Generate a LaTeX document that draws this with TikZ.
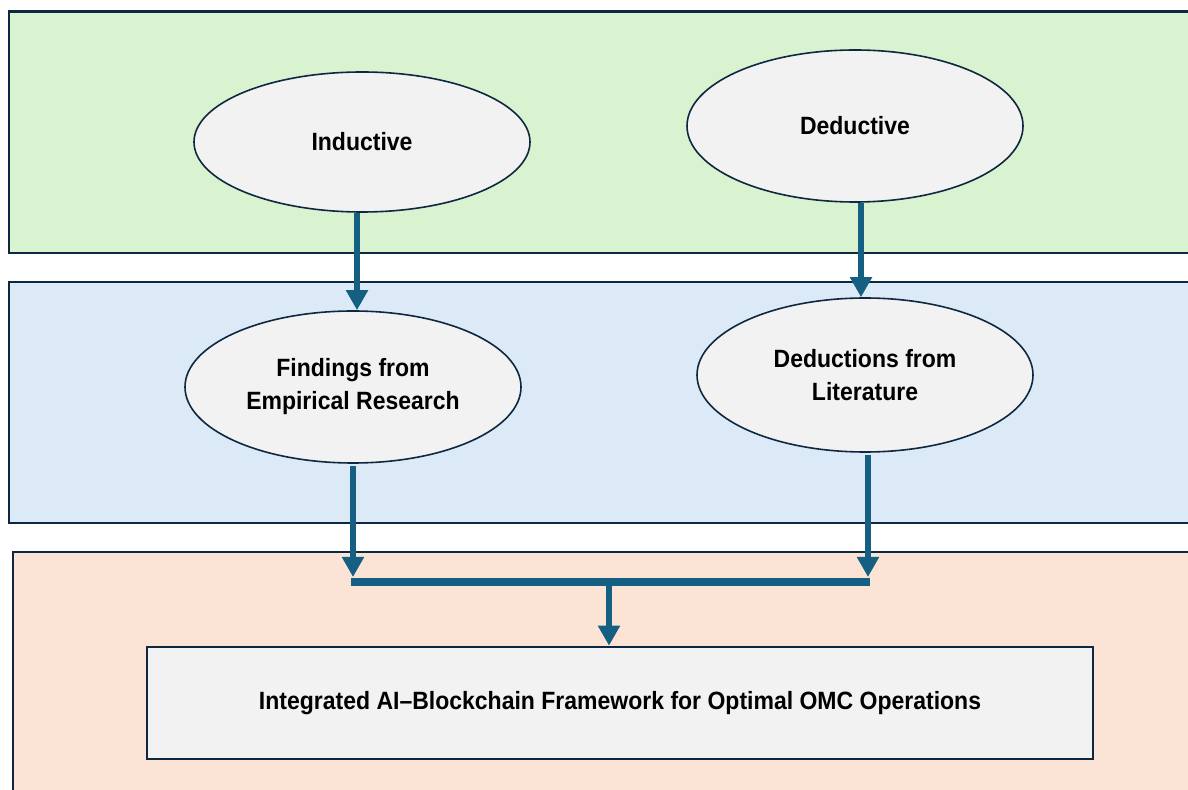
\documentclass[tikz,border=0pt]{standalone}
\usepackage{fontspec}
\setmainfont{Liberation Sans}[FakeStretch=0.92]
\usetikzlibrary{shapes.geometric,arrows.meta}
\definecolor{bandgreen}{HTML}{D9F2D0}
\definecolor{bandblue}{HTML}{DCEAF7}
\definecolor{bandpeach}{HTML}{FBE3D6}
\definecolor{shapefill}{HTML}{F2F2F2}
\definecolor{edge}{HTML}{0E2841}
\definecolor{flow}{HTML}{156082}
\tikzset{
  band/.style={draw=edge, line width=1.1pt},
  oval/.style={ellipse, draw=edge, line width=0.8pt, fill=shapefill,
    minimum width=168pt, inner sep=0pt, align=center,
    font=\fontsize{12.5}{16.5}\selectfont\bfseries},
  framebox/.style={rectangle, draw=edge, line width=1.3pt, fill=shapefill,
    minimum width=473pt, minimum height=56pt, inner sep=0pt,
    font=\fontsize{12.5}{16}\selectfont\bfseries},
  arr/.style={draw=flow, line width=3pt,
    -{Triangle[width=10.5pt,length=10pt]}},
  bar/.style={draw=flow, line width=4pt}
}
\begin{document}
\begin{tikzpicture}[x=0.5pt,y=-0.5pt]
\useasboundingbox (0,0) rectangle (1188,790);
\clip (0,0) rectangle (1188,790);
% three horizontal bands
\fill[white] (0,0) rectangle (1188,790);
\draw[band, fill=bandgreen] (9,11.5) rectangle (1200,253);
\draw[band, fill=bandblue] (9,282) rectangle (1200,523);
\draw[band, fill=bandpeach] (13,552) rectangle (1200,800);
% reasoning approaches
\node[oval, minimum height=70pt] (ind) at (362,142) {Inductive};
\node[oval, minimum height=76pt] (ded) at (855,126) {Deductive};
% sources
\node[oval, minimum height=76pt] (find) at (353,387) {Findings from\\Empirical Research};
\node[oval, minimum height=77pt] (lit) at (865,375) {Deductions from\\Literature};
% framework
\node[framebox] (fw) at (620,703) {Integrated AI–Blockchain Framework for Optimal OMC Operations};
% connectors
\coordinate (jl) at (353,582);
\coordinate (jr) at (868,582);
\coordinate (jm) at (609,582);
\draw[arr] ([xshift=-2.5pt]ind.south) -- ([xshift=-2.5pt]ind.south |- find.north);
\draw[arr] ([xshift=3pt]ded.south) -- ([xshift=3pt]ded.south |- lit.north);
\draw[bar] ([xshift=-1pt]jl) -- ([xshift=1pt]jr);
\draw[arr] ([yshift=-1pt]find.south) -- ([yshift=2.5pt]jl);
\draw[arr] ([xshift=1.5pt,yshift=-1pt]lit.south) -- ([xshift=1.5pt,yshift=2.5pt]lit.south |- jr);
\draw[arr] (jm) -- (jm |- fw.north);
\end{tikzpicture}
\end{document}
